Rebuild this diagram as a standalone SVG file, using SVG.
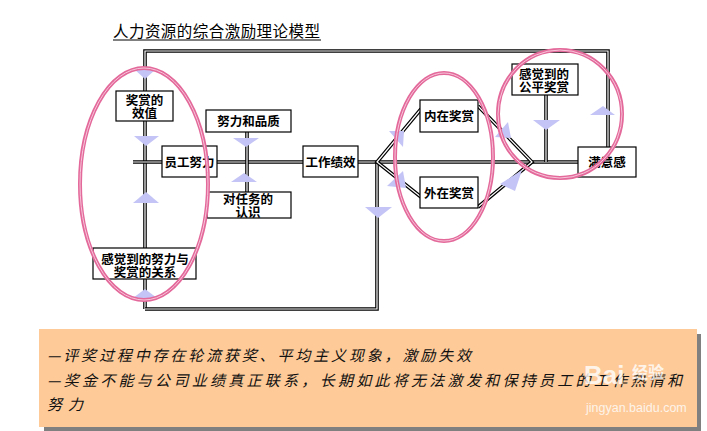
<svg xmlns="http://www.w3.org/2000/svg" xmlns:xlink="http://www.w3.org/1999/xlink" width="707" height="431" viewBox="0 0 707 431">
<style>
.dl{fill:none;stroke:#000;stroke-width:3.6;stroke-linejoin:miter}
.dw{fill:none;stroke:#fff;stroke-width:1.2;stroke-linejoin:miter}
.box{fill:#fff;stroke:#000;stroke-width:1.2}
.lbl{font-family:"Noto Sans CJK SC","Noto Sans CJK JP",sans-serif;font-size:12.5px;font-weight:bold;fill:#000;text-anchor:middle}
.tri{fill:#c4c4f6}
.ell{fill:none;stroke:#e4699b;stroke-width:4}
.ellw{fill:none;stroke:#f7c6da;stroke-width:1}
.note{font-family:"Noto Sans CJK SC","Noto Sans CJK JP",sans-serif;font-size:15px;font-style:italic;fill:#111}
.wm{fill:#fff;opacity:0.8;font-family:"Liberation Sans","Noto Sans CJK SC",sans-serif}
</style>
<defs>
<path id="p1" d="M145,309 V51 H608 V147"/>
<path id="p2" d="M145,309 H377 V162"/>
<path id="p3" d="M133,162 H580"/>
<path id="p4" d="M247,132 V192"/>
<path id="p5" d="M421,109 L377,162 L421,197"/>
<path id="p6" d="M478,106 L532,162 L478,207"/>
<path id="p7" d="M546,95 V162"/>
</defs>
<rect width="707" height="431" fill="#fff"/>
<text x="113" y="37" style="font-family:'Noto Sans CJK SC','Noto Sans CJK JP',sans-serif;font-size:15.5px" textLength="207">人力资源的综合激励理论模型</text>
<line x1="113" y1="40" x2="321" y2="40" stroke="#000" stroke-width="1"/>
<g id="connectors">
<use xlink:href="#p1" class="dl"/><use xlink:href="#p1" class="dw"/>
<use xlink:href="#p2" class="dl"/><use xlink:href="#p2" class="dw"/>
<use xlink:href="#p3" class="dl"/><use xlink:href="#p3" class="dw"/>
<use xlink:href="#p4" class="dl"/><use xlink:href="#p4" class="dw"/>
<use xlink:href="#p5" class="dl"/><use xlink:href="#p5" class="dw"/>
<use xlink:href="#p6" class="dl"/><use xlink:href="#p6" class="dw"/>
<use xlink:href="#p7" class="dl"/><use xlink:href="#p7" class="dw"/>
<polygon class="tri" points="134,69 156,69 145,79"/>
<polygon class="tri" points="134,136 159,136 146,146"/>
<polygon class="tri" points="233,138 259,138 246,147"/>
<polygon class="tri" points="231,182 257,182 244,173"/>
<polygon class="tri" points="133,203 159,203 146,192"/>
<polygon class="tri" points="133,298 157,298 145,289"/>
<polygon class="tri" points="365,207 392,207 378,218"/>
<polygon class="tri" points="389,131 403,147 404,131"/>
<polygon class="tri" points="403,171 387,186 406,188"/>
<polygon class="tri" points="495,137 508,122 511,138"/>
<polygon class="tri" points="500,184 515,191 522,170"/>
<polygon class="tri" points="533,120 560,120 546,130"/>
<polygon class="tri" points="590,115 615,115 603,106"/>
</g>
<g id="n-value"><rect class="box" x="116" y="91" width="57" height="30"/><text class="lbl" x="144.5" y="105">奖赏的</text><text class="lbl" x="144.5" y="118">效值</text></g>
<g id="n-ability"><rect class="box" x="206" y="110" width="85" height="22"/><text class="lbl" x="248.5" y="126">努力和品质</text></g>
<g id="n-effort"><rect class="box" x="162" y="146" width="55" height="31"/><text class="lbl" x="189.5" y="166.5">员工努力</text></g>
<g id="n-role"><rect class="box" x="207" y="192" width="84" height="26"/><text class="lbl" x="248" y="204">对任务的</text><text class="lbl" x="248" y="217">认识</text></g>
<g id="n-perceived"><rect class="box" x="93" y="248" width="103" height="31"/><text class="lbl" x="145" y="264">感觉到的努力与</text><text class="lbl" x="145" y="277">奖赏的关系</text></g>
<g id="n-performance"><rect class="box" x="303" y="146" width="55" height="31"/><text class="lbl" x="330.5" y="166.5">工作绩效</text></g>
<g id="n-intrinsic"><rect class="box" x="420" y="100" width="58" height="32"/><text class="lbl" x="449" y="121">内在奖赏</text></g>
<g id="n-extrinsic"><rect class="box" x="420" y="177" width="58" height="31"/><text class="lbl" x="449" y="198">外在奖赏</text></g>
<g id="n-equity"><rect class="box" x="512" y="64" width="66" height="31"/><text class="lbl" x="544" y="79">感觉到的</text><text class="lbl" x="544" y="92">公平奖赏</text></g>
<g id="n-satisfaction"><rect class="box" x="578" y="147" width="58" height="30"/><text class="lbl" x="607" y="167">满意感</text></g>
<g id="highlights">
<ellipse class="ell" cx="144" cy="184" rx="64" ry="116"/><ellipse class="ellw" cx="144" cy="184" rx="64" ry="116"/>
<ellipse class="ell" cx="444" cy="157" rx="49" ry="84"/><ellipse class="ellw" cx="444" cy="157" rx="49" ry="84"/>
<ellipse class="ell" cx="560" cy="114" rx="62" ry="64"/><ellipse class="ellw" cx="560" cy="114" rx="62" ry="64"/>
</g>
<g id="note">
<rect x="44" y="334" width="657" height="97" fill="#808080"/>
<rect x="39" y="329" width="658" height="98" fill="#fdca98"/>
<text class="note" x="47" y="361" textLength="424" lengthAdjust="spacing">—评奖过程中存在轮流获奖、平均主义现象，激励失效</text>
<text class="note" x="47" y="386" textLength="635" lengthAdjust="spacing">—奖金不能与公司业绩真正联系，长期如此将无法激发和保持员工的工作热情和</text>
<text class="note" x="47" y="410" textLength="36" lengthAdjust="spacing">努力</text>
<text class="wm" x="584" y="384" style="font-size:26px;font-weight:bold">Bai</text>
<text class="wm" x="632" y="378" style="font-size:16px;font-family:'Noto Sans CJK SC',sans-serif;font-weight:bold">经验</text>
<text class="wm" x="586" y="412" style="font-size:12.5px">jingyan.baidu.com</text>
</g>
</svg>
